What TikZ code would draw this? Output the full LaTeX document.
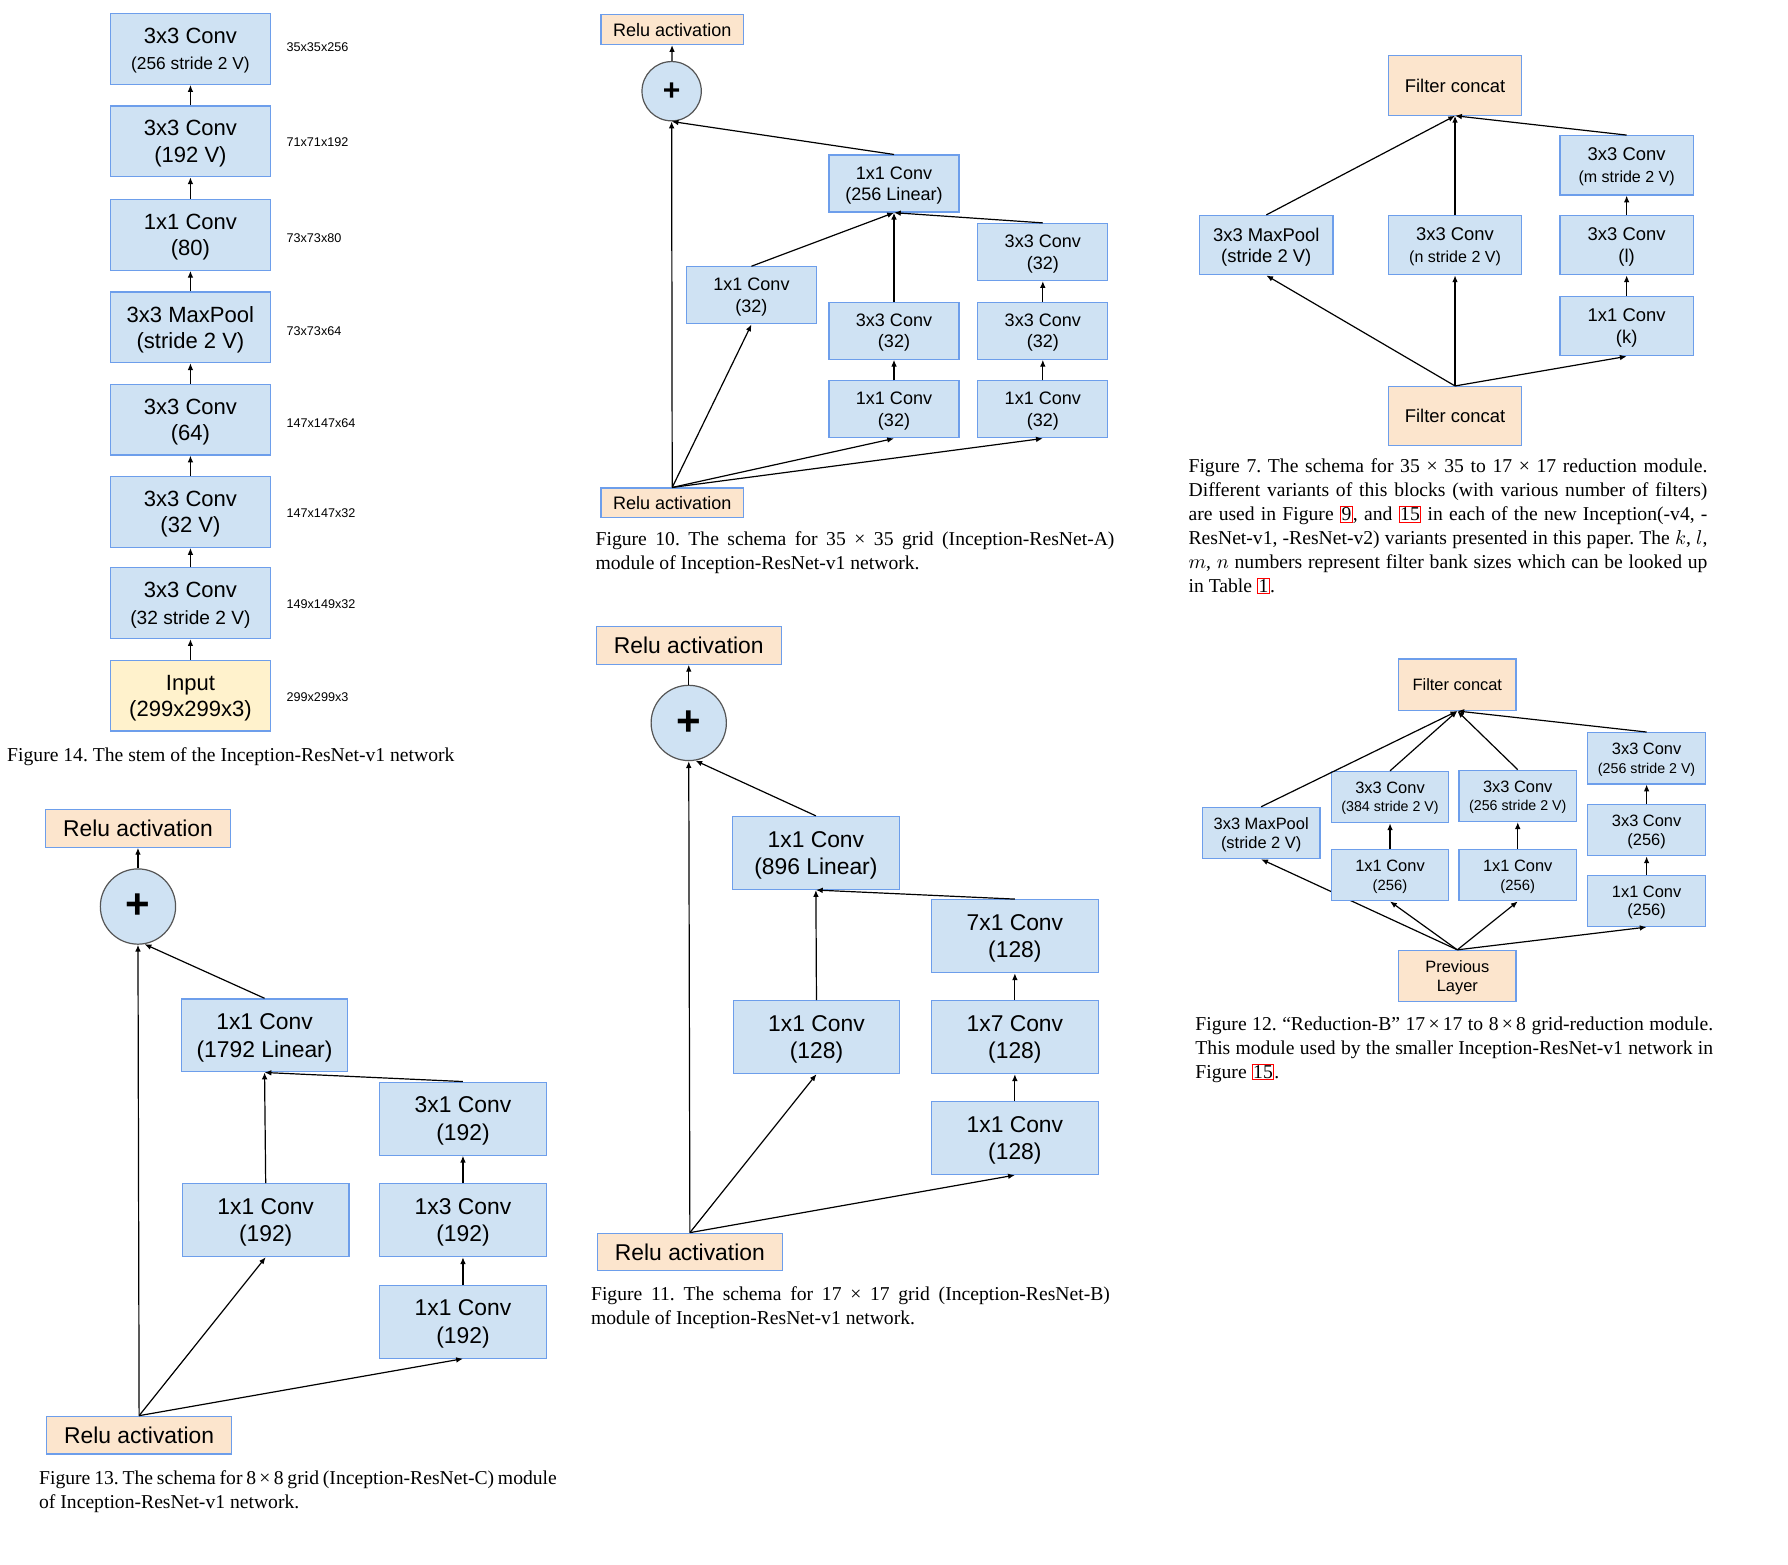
\documentclass[tikz,border=0pt]{standalone}
\usepackage{fontspec}
\setmainfont{Liberation Sans}
\newfontfamily\serifYazi{Liberation Serif}
\usepackage{tikz}
\usetikzlibrary{arrows.meta,backgrounds}
\definecolor{kutuMavi}{HTML}{CFE2F3}
\definecolor{kenarMavi}{HTML}{6D9EEB}
\definecolor{seftali}{HTML}{FCE5CD}
\definecolor{acikSari}{HTML}{FFF2CC}
\definecolor{koyuGri}{HTML}{555555}
\newcommand{\ufak}[2]{{\fontsize{#1}{#1}\selectfont #2}}
\newcommand{\tamSatir}[1]{\makebox[9.1cm][s]{#1}}
\newcommand{\kirmiziKutu}[1]{{\setlength{\fboxsep}{0.3pt}\setlength{\fboxrule}{0.5pt}\color{red}\fbox{\color{black}#1}}}
\frenchspacing

\begin{document}
\begin{tikzpicture}[x=0.2mm, y=-0.2mm,
  kutu/.style={draw=kenarMavi,fill=kutuMavi,line width=0.6pt,align=center,inner sep=0pt,text depth=0pt},
  kutu14/.style={kutu,minimum width=2.8cm,minimum height=1.24cm,font=\fontsize{11}{13.1}\selectfont},
  girdi/.style={kutu14,fill=acikSari},
  boyut/.style={anchor=west,inner sep=0pt,font=\fontsize{6.3}{7.5}\selectfont},
  kutu10/.style={kutu,minimum width=2.28cm,minimum height=1cm,font=\fontsize{9}{10.8}\selectfont},
  relu10/.style={kutu10,fill=seftali,minimum width=2.5cm,minimum height=0.52cm},
  toplam/.style={circle,draw=koyuGri,fill=kutuMavi,line width=0.6pt,inner sep=0pt},
  toplam10/.style={toplam,minimum size=1.04cm,font=\fontsize{15}{15}\selectfont\bfseries},
  kutu7/.style={kutu,minimum width=2.34cm,minimum height=1.04cm,font=\fontsize{9.2}{10.8}\selectfont},
  kons7/.style={kutu7,fill=seftali},
  kutu13/.style={kutu,minimum width=2.92cm,minimum height=1.28cm,font=\fontsize{11.4}{13.6}\selectfont},
  relu13/.style={kutu13,fill=seftali,minimum width=3.24cm,minimum height=0.66cm},
  toplam13/.style={toplam,minimum size=1.32cm,font=\fontsize{21}{21}\selectfont\bfseries},
  kutu12/.style={kutu,minimum width=2.06cm,minimum height=0.9cm,font=\fontsize{8.2}{9.1}\selectfont},
  kons12/.style={kutu12,fill=seftali},
  baslik/.style={anchor=north west,inner sep=0pt,text width=9.1cm,align=justify,font=\serifYazi\fontsize{9.8}{12}\selectfont},
  ok/.style={-{Latex[length=3.4pt,width=2.8pt]},line width=0.6pt}]
\useasboundingbox (0,0) rectangle (1568,1372);

\node[kutu14] (s1) at (167,43) {3x3 Conv\\\ufak{8.65}{(256 stride 2 V)}};
\node[kutu14] (s2) at (167,124) {3x3 Conv\\(192 V)};
\node[kutu14] (s3) at (167,206) {1x1 Conv\\(80)};
\node[kutu14] (s4) at (167,287) {3x3 MaxPool\\(stride 2 V)};
\node[kutu14] (s5) at (167,368) {3x3 Conv\\(64)};
\node[kutu14] (s6) at (167,449) {3x3 Conv\\(32 V)};
\node[kutu14] (s7) at (167,529) {3x3 Conv\\\ufak{9.55}{(32 stride 2 V)}};
\node[girdi] (s8) at (167,610) {Input\\(299x299x3)};
\node[boyut] (d1) at (251,41) {35x35x256};
\node[boyut] (d2) at (251,125) {71x71x192};
\node[boyut] (d3) at (251,209) {73x73x80};
\node[boyut] (d4) at (251,290) {73x73x64};
\node[boyut] (d5) at (251,371) {147x147x64};
\node[boyut] (d6) at (251,450) {147x147x32};
\node[boyut] (d7) at (251,530) {149x149x32};
\node[boyut] (d8) at (251,611) {299x299x3};
\foreach \x/\y in {s8/s7, s7/s6, s6/s5, s5/s4, s4/s3, s3/s2, s2/s1} \draw[ok] (\x)--(\y);
\node[baslik] (t14) at (6,655) {Figure 14. The stem of the Inception-ResNet-v1 network};

\node[relu10] (aR2) at (589.5,26) {Relu activation};
\node[toplam10] (aP) at (589,80) {+};
\node[kutu10] (aL) at (784,161) {1x1 Conv\\(256 Linear)};
\node[kutu10] (aB1) at (659,259) {1x1 Conv\\(32)};
\node[kutu10] (aC2) at (784,290) {3x3 Conv\\(32)};
\node[kutu10] (aC1) at (784,359) {1x1 Conv\\(32)};
\node[kutu10] (aD3) at (914.5,221) {3x3 Conv\\(32)};
\node[kutu10] (aD2) at (914.5,290) {3x3 Conv\\(32)};
\node[kutu10] (aD1) at (914.5,359) {1x1 Conv\\(32)};
\node[relu10] (aR1) at (589.5,441) {Relu activation};
\foreach \x/\y in {aR1.north/aP.south, aR1.north/aB1.south, aR1.north/aC1.south, aR1.north/aD1.south,
  aC1/aC2, aD1/aD2, aD2/aD3, aB1.north/aL.south, aC2.north/aL.south, aD3.north/aL.south,
  aL.north/aP.south, aP/aR2} \draw[ok] (\x)--(\y);
\node[baslik] (t10) at (522,466) {\tamSatir{Figure 10. The schema for 35 × 35 grid (Inception-ResNet-A)}\\module of Inception-ResNet-v1 network.};

\node[kons7] (bF2) at (1276,75) {Filter concat};
\node[kutu7] (bM) at (1110.5,215) {3x3 MaxPool\\(stride 2 V)};
\node[kutu7] (bN) at (1276,215) {3x3 Conv\\\ufak{8}{(n stride 2 V)}};
\node[kutu7] (bMm) at (1426.5,145) {3x3 Conv\\\ufak{8}{(m stride 2 V)}};
\node[kutu7] (bL) at (1426.5,215) {3x3 Conv\\(l)};
\node[kutu7] (bK) at (1426.5,286) {1x1 Conv\\(k)};
\node[kons7] (bF1) at (1276,365) {Filter concat};
\foreach \x/\y in {bF1.north/bM.south, bF1.north/bN.south, bF1.north/bK.south, bK/bL, bL/bMm,
  bM.north/bF2.south, bN.north/bF2.south, bMm.north/bF2.south} \draw[ok] (\x)--(\y);
\node[baslik] (t7) at (1042,402) {\tamSatir{Figure 7. The schema for 35 × 35 to 17 × 17 reduction module.}\\
  \tamSatir{Different variants of this blocks (with various number of filters)}\\
  \tamSatir{are used in Figure \kirmiziKutu{9}, and \kirmiziKutu{15} in each of the new Inception(-v4, -}\\
  \tamSatir{ResNet-v1, -ResNet-v2) variants presented in this paper. The $k$, $l$,}\\
  \tamSatir{$m$, $n$ numbers represent filter bank sizes which can be looked up}\\
  in Table \kirmiziKutu{1}.};

\node[relu13] (cR2) at (121,726.5) {Relu activation};
\node[toplam13] (cP) at (121,795) {+};
\node[kutu13] (cL) at (232,908) {1x1 Conv\\(1792 Linear)};
\node[kutu13] (cD3) at (406,981) {3x1 Conv\\(192)};
\node[kutu13] (cB) at (233,1070) {1x1 Conv\\(192)};
\node[kutu13] (cD2) at (406,1070) {1x3 Conv\\(192)};
\node[kutu13] (cD1) at (406,1159) {1x1 Conv\\(192)};
\node[relu13] (cR1) at (122,1258.5) {Relu activation};
\foreach \x/\y in {cR1.north/cP.south, cR1.north/cB.south, cR1.north/cD1.south, cD1/cD2, cD2/cD3,
  cB.north/cL.south, cD3.north/cL.south, cL.north/cP.-80, cP/cR2} \draw[ok] (\x)--(\y);
\node[baslik] (t13) at (34,1289) {\makebox[9.08cm][s]{Figure 13. The schema for 8\,×\,8 grid (Inception-ResNet-C) module}\\of Inception-ResNet-v1 network.};

\node[relu13] (eR2) at (604,566) {Relu activation};
\node[toplam13] (eP) at (604,634) {+};
\node[kutu13] (eL) at (715.5,748) {1x1 Conv\\(896 Linear)};
\node[kutu13] (eD3) at (890,821) {7x1 Conv\\(128)};
\node[kutu13] (eB) at (716,909.5) {1x1 Conv\\(128)};
\node[kutu13] (eD2) at (890,909.5) {1x7 Conv\\(128)};
\node[kutu13] (eD1) at (890,998) {1x1 Conv\\(128)};
\node[relu13] (eR1) at (605,1098) {Relu activation};
\foreach \x/\y in {eR1.north/eP.south, eR1.north/eB.south, eR1.north/eD1.south, eD1/eD2, eD2/eD3,
  eB.north/eL.south, eD3.north/eL.south, eL.north/eP.-80, eP/eR2} \draw[ok] (\x)--(\y);
\node[baslik] (t11) at (518,1128) {\tamSatir{Figure 11. The schema for 17 × 17 grid (Inception-ResNet-B)}\\module of Inception-ResNet-v1 network.};

\node[kons12] (fF) at (1278,600.5) {Filter concat};
\node[kutu12] (fM) at (1106,730.5) {3x3 MaxPool\\(stride 2 V)};
\node[kutu12] (fA2) at (1219,699) {3x3 Conv\\\ufak{7.1}{(384 stride 2 V)}};
\node[kutu12] (fA1) at (1219,767.5) {1x1 Conv\\\ufak{7.4}{(256)}};
\node[kutu12] (fB2) at (1331,698) {3x3 Conv\\\ufak{7.1}{(256 stride 2 V)}};
\node[kutu12] (fB1) at (1331,767.5) {1x1 Conv\\\ufak{7.4}{(256)}};
\node[kutu12] (fC3) at (1444,665) {3x3 Conv\\\ufak{7.1}{(256 stride 2 V)}};
\node[kutu12] (fC2) at (1444,728) {3x3 Conv\\(256)};
\node[kutu12] (fC1) at (1444,790) {1x1 Conv\\(256)};
\node[kons12] (fP) at (1278,856) {Previous\\Layer};
\begin{scope}[on background layer]
\draw[ok] (fP.north)--(fM.south);
\end{scope}
\foreach \x/\y in {fP.north/fA1.south, fP.north/fB1.south, fP.north/fC1.south, fA1/fA2, fB1/fB2,
  fC1/fC2, fC2/fC3, fM.north/fF.south, fA2.north/fF.south, fB2.north/fF.south,
  fC3.north/fF.south} \draw[ok] (\x)--(\y);
\node[baslik] (t12) at (1048,891) {\makebox[9.08cm][s]{Figure 12. “Reduction-B” 17\,×\,17 to 8\,×\,8 grid-reduction module.}\\
  \makebox[9.08cm][s]{This module used by the smaller Inception-ResNet-v1 network in}\\
  Figure \kirmiziKutu{15}.};
\end{tikzpicture}
\end{document}
